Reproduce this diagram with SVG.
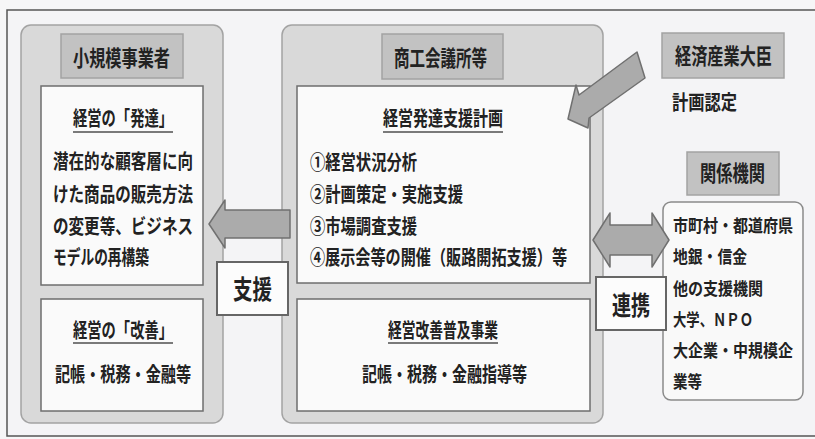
<svg xmlns="http://www.w3.org/2000/svg" width="815" height="439" viewBox="0 0 815 439">
<defs>
<style>
text{font-family:"Noto Sans CJK JP","Noto Sans CJK SC",sans-serif;font-weight:bold;fill:#222;}
.t{font-size:22px;}
.b{font-size:20px;}
.l{font-size:17.5px;}
.big{font-size:26px;}
.panel{fill:#d9d9d9;stroke:#a3a3a3;stroke-width:1.5;}
.title{fill:#c2c2c2;stroke:#a3a3a3;stroke-width:1.5;}
.inner{fill:#fafafa;stroke:#6e6e6e;stroke-width:1.5;}
.lbl{fill:#fcfcfc;stroke:#666;stroke-width:2;}
.ul{stroke:#7a7a7a;stroke-width:1.8;}
.arr{fill:#ababab;stroke:#707070;stroke-width:1.5;stroke-linejoin:round;}
</style>
</defs>
<rect x="0" y="0" width="815" height="439" fill="#f6f6f7"/>
<rect x="7" y="10" width="830" height="426" fill="#f4f4f6" stroke="#555" stroke-width="1.5"/>

<g id="small-business">
<rect class="panel" x="21" y="25" width="202" height="398" rx="10"/>
<rect class="title" x="61" y="34" width="122" height="44"/>
<text class="t" x="73" y="65.5" textLength="97" lengthAdjust="spacingAndGlyphs">小規模事業者</text>
</g>
<g id="development">
<rect class="inner" x="41" y="86" width="162" height="199"/>
<text class="b" x="73" y="125.5" textLength="100" lengthAdjust="spacingAndGlyphs">経営の「発達」</text>
<line class="ul" x1="73" y1="132" x2="173" y2="132"/>
<text class="b" x="53" y="168.5" textLength="140" lengthAdjust="spacingAndGlyphs">潜在的な顧客層に向</text>
<text class="b" x="53" y="202" textLength="140" lengthAdjust="spacingAndGlyphs">けた商品の販売方法</text>
<text class="b" x="53" y="234" textLength="140" lengthAdjust="spacingAndGlyphs">の変更等、ビジネス</text>
<text class="b" x="53" y="265" textLength="96" lengthAdjust="spacingAndGlyphs">モデルの再構築</text>
</g>
<g id="improvement">
<rect class="inner" x="41" y="299" width="162" height="112"/>
<text class="b" x="73" y="337.5" textLength="100" lengthAdjust="spacingAndGlyphs">経営の「改善」</text>
<line class="ul" x1="73" y1="343" x2="173" y2="343"/>
<text class="b" x="55" y="381.5" textLength="136" lengthAdjust="spacingAndGlyphs">記帳・税務・金融等</text>
</g>

<g id="chamber">
<rect class="panel" x="282" y="25" width="321" height="398" rx="10"/>
<rect class="title" x="382" y="34" width="121" height="45"/>
<text class="t" x="394" y="65.5" textLength="93" lengthAdjust="spacingAndGlyphs">商工会議所等</text>
</g>
<g id="plan">
<rect class="inner" x="297" y="86" width="293" height="197"/>
<text class="b" x="383" y="125.5" textLength="120" lengthAdjust="spacingAndGlyphs">経営発達支援計画</text>
<line class="ul" x1="383" y1="132" x2="503" y2="132"/>
<text class="b" x="310" y="169.5" textLength="107" lengthAdjust="spacingAndGlyphs">①経営状況分析</text>
<text class="b" x="310" y="201.5" textLength="153" lengthAdjust="spacingAndGlyphs">②計画策定・実施支援</text>
<text class="b" x="310" y="233.5" textLength="107" lengthAdjust="spacingAndGlyphs">③市場調査支援</text>
<text class="b" x="310" y="264.5" textLength="257" lengthAdjust="spacingAndGlyphs">④展示会等の開催（販路開拓支援）等</text>
</g>
<g id="improvement-program">
<rect class="inner" x="297" y="299" width="293" height="112"/>
<text class="b" x="388" y="337.5" textLength="110" lengthAdjust="spacingAndGlyphs">経営改善普及事業</text>
<line class="ul" x1="388" y1="343" x2="498" y2="343"/>
<text class="b" x="362" y="381.5" textLength="165" lengthAdjust="spacingAndGlyphs">記帳・税務・金融指導等</text>
</g>

<g id="minister">
<rect class="title" x="662" y="33" width="122" height="45"/>
<text class="t" x="675" y="64" textLength="97" lengthAdjust="spacingAndGlyphs">経済産業大臣</text>
<text class="b" x="672" y="109.5" textLength="65" lengthAdjust="spacingAndGlyphs">計画認定</text>
</g>
<g id="related-orgs">
<rect class="title" x="687" y="152" width="92" height="43"/>
<text class="t" x="700" y="181" textLength="65" lengthAdjust="spacingAndGlyphs">関係機関</text>
<rect x="663" y="202" width="140" height="198" rx="8" fill="#f9f9f9" stroke="#8a8a8a" stroke-width="1.5"/>
<text class="l" x="673" y="231.5" textLength="120" lengthAdjust="spacingAndGlyphs">市町村・都道府県</text>
<text class="l" x="673" y="263" textLength="74" lengthAdjust="spacingAndGlyphs">地銀・信金</text>
<text class="l" x="673" y="294.5" textLength="90" lengthAdjust="spacingAndGlyphs">他の支援機関</text>
<text class="l" x="673" y="325.5" textLength="80" lengthAdjust="spacingAndGlyphs">大学、ＮＰＯ</text>
<text class="l" x="673" y="356.5" textLength="120" lengthAdjust="spacingAndGlyphs">大企業・中規模企</text>
<text class="l" x="673" y="388" textLength="29" lengthAdjust="spacingAndGlyphs">業等</text>
</g>

<g id="connectors">
<polygon class="arr" points="290,210 225,210 225,200 209,224 225,248 225,238 290,238"/>
<polygon class="arr" points="593,240 610,213 610,225 652,225 652,213 669,240 652,267 652,255 610,255 610,267"/>
<polygon class="arr" points="637,52 645,78 589,118 588,128 568,119 576,85 579,95"/>
</g>

<g id="support-label">
<rect class="lbl" x="217" y="262" width="71" height="53"/>
<text class="big" x="233" y="298.5" textLength="39" lengthAdjust="spacingAndGlyphs">支援</text>
</g>
<g id="cooperation-label">
<rect class="lbl" x="596" y="277" width="70" height="53"/>
<text class="big" x="612" y="314.5" textLength="38" lengthAdjust="spacingAndGlyphs">連携</text>
</g>
</svg>
